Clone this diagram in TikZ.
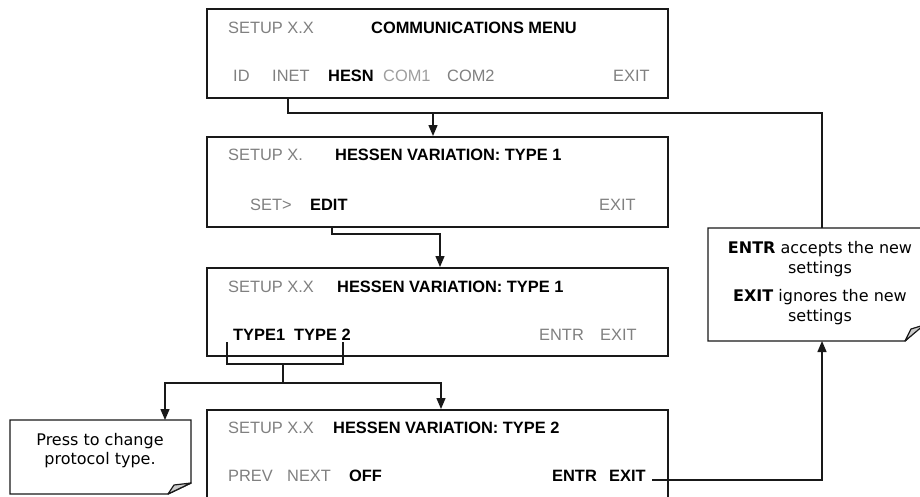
\documentclass[tikz,border=0pt]{standalone}
\usepackage{fontspec}
\setmainfont{Liberation Sans}
\newfontfamily\notefont{DejaVu Sans}
\usetikzlibrary{arrows.meta}
\definecolor{dim}{gray}{0.5}
\definecolor{dimmer}{gray}{0.62}
\definecolor{ink}{gray}{0.1}
\definecolor{flapgray}{gray}{0.8}
\begin{document}
\begin{tikzpicture}[x=1pt,y=-1pt,
  screen/.style={draw=ink, line width=1.6pt, fill=white, inner sep=0pt, anchor=north west},
  lbl/.style={inner sep=0pt, anchor=base west, font=\fontsize{16.4}{19}\selectfont},
  gr/.style={lbl, text=dim},
  bd/.style={lbl, font=\fontsize{16.4}{19}\selectfont\bfseries},
  conn/.style={draw=ink, line width=1.4pt},
  arr/.style={conn, -{Triangle[length=11pt,width=9pt]}},
  nt/.style={inner sep=0pt, anchor=base, font=\notefont\fontsize{16}{19}\selectfont},
  notebox/.style={draw=ink, line width=1.4pt, fill=white, line join=miter},
  flap/.style={draw=ink, line width=1.2pt, fill=flapgray, line join=round},
]
\useasboundingbox (0,0) rectangle (920,496);
\clip (0,0) rectangle (920,496);

% screens
\node[screen, minimum width=461pt, minimum height=89pt] (b1) at (206,8) {};
\node[screen, minimum width=461pt, minimum height=90pt] (b2) at (206,136) {};
\node[screen, minimum width=461pt, minimum height=88pt] (b3) at (206,267) {};
\node[screen, minimum width=461pt, minimum height=120pt] (b4) at (206,409) {};

% box 1
\node[gr] (s1) at (228,33) {SETUP X.X};
\node[bd] (h1) at (371,33) {COMMUNICATIONS MENU};
\node[gr] (id) at (233,81) {ID};
\node[gr] (inet) at (272,81) {INET};
\node[bd] (hesn) at (328,81) {HESN};
\node[lbl, text=dimmer] (com1) at (383,81) {COM1};
\node[gr] (com2) at (447,81) {COM2};
\node[gr] (x1) at (613,81) {EXIT};

% box 2
\node[gr] (s2) at (228,160) {SETUP X.};
\node[bd] (h2) at (335,160) {HESSEN VARIATION: TYPE 1};
\node[gr] (set) at (250,210) {SET>};
\node[bd] (edit) at (310,210) {EDIT};
\node[gr] (x2) at (599,210) {EXIT};

% box 3
\node[gr] (s3) at (228,292) {SETUP X.X};
\node[bd] (h3) at (337,292) {HESSEN VARIATION: TYPE 1};
\node[bd] (ty1) at (233,340) {TYPE1};
\node[bd] (ty2) at (294,340) {TYPE 2};
\node[gr] (e3) at (539,340) {ENTR};
\node[gr] (x3) at (600,340) {EXIT};

% box 4
\node[gr] (s4) at (228,433) {SETUP X.X};
\node[bd] (h4) at (333,433) {HESSEN VARIATION: TYPE 2};
\node[gr] (prev) at (228,481) {PREV};
\node[gr] (next) at (287,481) {NEXT};
\node[bd] (off) at (349,481) {OFF};
\node[bd] (e4) at (552,481) {ENTR};
\node[bd] (x4) at (609,481) {EXIT};

% right note
\draw[notebox] (708,228) -- (924,228) -- (924,323) -- (905,341) -- (708,341) -- cycle;
\draw[flap] (905,341) -- (911,329) -- (924,325) -- cycle;
\node[nt] (r1) at (820,253) {\textbf{ENTR} accepts the new};
\node[nt] (r2) at (820,273) {settings};
\node[nt] (r3) at (820,301) {\textbf{EXIT} ignores the new};
\node[nt] (r4) at (820,321) {settings};
\coordinate (rtop) at (822,228);
\coordinate (rbot) at (822,341);

% left note
\draw[notebox] (10,420) -- (191,420) -- (191,483) -- (168,494) -- (10,494) -- cycle;
\draw[flap] (168,494) -- (174,485) -- (191,483) -- cycle;
\node[nt] (l1) at (100,445) {Press to change};
\node[nt] (l2) at (100,464) {protocol type.};
\coordinate (ltop) at (165,420);

% connectors
\coordinate (inetd) at (288,97);
\coordinate (j1) at (288,113);
\coordinate (j1r) at (822,113);
\coordinate (a1) at (433,113);
\draw[conn] (inetd) -- (j1) -- (j1r) -- (rtop);
\draw[arr] (a1) -- (a1 |- b2.north);

\coordinate (editd) at (332,226);
\coordinate (j2) at (332,234);
\coordinate (j2r) at (440,234);
\draw[arr] (editd) -- (j2) -- (j2r) -- (j2r |- b3.north);

\coordinate (k1) at (227,342);
\coordinate (k2) at (343,342);
\coordinate (k1b) at (227,364);
\coordinate (k2b) at (343,364);
\coordinate (km) at (283,364);
\coordinate (kj) at (283,383);
\coordinate (kl) at (165,383);
\coordinate (kr) at (441,383);
\draw[conn] (k1) -- (k1b) -- (k2b) -- (k2);
\draw[conn] (km) -- (kj);
\draw[arr] (kj) -- (kl) -- (ltop);
\draw[arr] (kj) -- (kr) -- (kr |- b4.north);

\coordinate (exs) at (652,480);
\coordinate (exc) at (822,480);
\draw[arr] (exs) -- (exc) -- (rbot);
\end{tikzpicture}
\end{document}
